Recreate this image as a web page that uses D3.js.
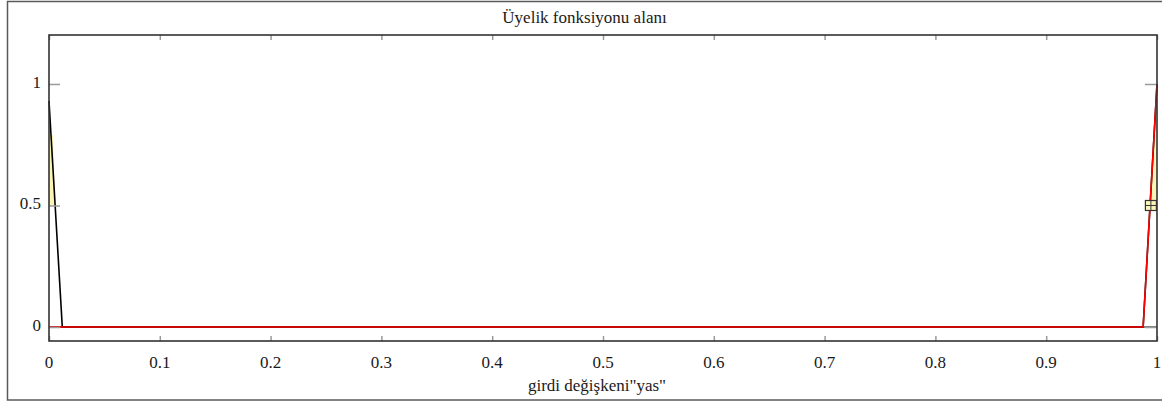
<!DOCTYPE html>
<html>
<head>
<meta charset="utf-8">
<script src="https://cdn.jsdelivr.net/npm/d3@7"></script>
<style>
  html, body { margin: 0; padding: 0; background: #fff; overflow: hidden; }
  svg { display: block; }
  text { font-family: "Liberation Serif", "Times New Roman", serif; fill: #1a1a1a; }
</style>
</head>
<body>
<script>
// Membership functions of the input variable "yas"
const xTickValues = [0, 0.1, 0.2, 0.3, 0.4, 0.5, 0.6, 0.7, 0.8, 0.9, 1];
const xTickLabels = ["0", "0.1", "0.2", "0.3", "0.4", "0.5", "0.6", "0.7", "0.8", "0.9", "1"];
const yTickValues = [0, 0.5, 1];
const yTickLabels = ["0", "0.5", "1"];

// black membership function (low at the left edge, rising again at the right edge)
const blackX = [0, 0.012, 0.9875, 1];
const blackY = [0.93, 0, 0, 1];
// red membership function
const redX = [0, 0.9875, 1];
const redY = [0, 0, 1];
// shaded alpha-cut regions
const shadeLeftX = [0, 0.0055, 0.0036, 0];
const shadeLeftY = [0.5, 0.5, 0.79, 0.79];
const shadeRightX = [0.9941, 1, 1, 0.9985];
const shadeRightY = [0.5, 0.5, 0.92, 0.92];
// centre marker
const markerX = [0.9945];
const markerY = [0.5];

const title = "Üyelik fonksiyonu alanı";
const xTitle = "girdi değişkeni\"yas\"";

const W = 1162, H = 407;
const plot = { left: 49, right: 1157, top: 35, bottom: 341 };

const svg = d3.select("body").append("svg").attr("width", W).attr("height", H);

// outer frame (its right edge lies beyond the visible area)
svg.append("rect")
  .attr("x", 7.5).attr("y", 1.5).attr("width", 1180).attr("height", 398.5)
  .attr("fill", "none").attr("stroke", "#5a5a5a").attr("stroke-width", 1.5);

const x = d3.scaleLinear().domain([0, 1]).range([plot.left, plot.right]);
const y = d3.scaleLinear().domain([-0.0576, 1.2016]).range([plot.bottom, plot.top]);

const zip = (xs, ys) => xs.map((v, i) => [v, ys[i]]);
const line = d3.line().x(d => x(d[0])).y(d => y(d[1]));

const g = svg.append("g");

// zero reference line
g.append("line")
  .attr("x1", plot.left).attr("x2", plot.right)
  .attr("y1", y(0)).attr("y2", y(0))
  .attr("stroke", "#555").attr("stroke-width", 1.5);

// shaded regions
[[shadeLeftX, shadeLeftY], [shadeRightX, shadeRightY]].forEach(([xs, ys]) => {
  g.append("path")
    .attr("d", line(zip(xs, ys)) + "Z")
    .attr("fill", "#fbf5b5").attr("stroke", "none");
});

// membership lines
g.append("path").attr("d", line(zip(blackX, blackY)))
  .attr("fill", "none").attr("stroke", "#000").attr("stroke-width", 1.6);
g.append("path").attr("d", line(zip(redX, redY)))
  .attr("fill", "none").attr("stroke", "#ff0000").attr("stroke-width", 1.6);

// axis ticks on all four sides
const xAxisBottom = d3.axisBottom(x).tickValues(xTickValues).tickSize(-5).tickFormat("");
const xAxisTop = d3.axisTop(x).tickValues(xTickValues).tickSize(-5).tickFormat("");
const yAxisLeft = d3.axisLeft(y).tickValues(yTickValues).tickSize(-11).tickFormat("");
const yAxisRight = d3.axisRight(y).tickValues(yTickValues).tickSize(-12).tickFormat("");
[
  [xAxisBottom, `translate(0,${plot.bottom})`],
  [xAxisTop, `translate(0,${plot.top})`],
  [yAxisLeft, `translate(${plot.left},0)`],
  [yAxisRight, `translate(${plot.right},0)`]
].forEach(([ax, tr]) => {
  const a = g.append("g").attr("transform", tr).call(ax);
  a.select(".domain").remove();
  a.selectAll(".tick line").attr("stroke", "#9a9a9a").attr("stroke-width", 1.5);
});

// centre marker
g.selectAll("g.marker").data(zip(markerX, markerY)).join("g")
  .attr("class", "marker")
  .attr("transform", d => `translate(${x(d[0])},${y(d[1])})`)
  .each(function () {
    const m = d3.select(this);
    m.append("rect").attr("x", -5.5).attr("y", -5).attr("width", 11).attr("height", 10)
      .attr("fill", "#fbf5b5").attr("stroke", "#333").attr("stroke-width", 1.2);
    m.append("line").attr("x1", -5.5).attr("x2", 5.5).attr("y1", 0).attr("y2", 0)
      .attr("stroke", "#333").attr("stroke-width", 1);
    m.append("line").attr("x1", 0).attr("x2", 0).attr("y1", -5).attr("y2", 5)
      .attr("stroke", "#333").attr("stroke-width", 1);
  });

// plot frame
svg.append("rect")
  .attr("x", plot.left).attr("y", plot.top)
  .attr("width", plot.right - plot.left).attr("height", plot.bottom - plot.top)
  .attr("fill", "none").attr("stroke", "#333").attr("stroke-width", 1.6);

// tick labels
svg.append("g").selectAll("text").data(xTickValues).join("text")
  .attr("x", d => x(d)).attr("y", 368)
  .attr("text-anchor", "middle").attr("font-size", 17)
  .text((d, i) => xTickLabels[i]);
svg.append("g").selectAll("text").data(yTickValues).join("text")
  .attr("x", 41).attr("y", d => y(d) + 4)
  .attr("text-anchor", "end").attr("font-size", 17)
  .text((d, i) => yTickLabels[i]);

// titles
svg.append("text").attr("x", 584.5).attr("y", 22.5)
  .attr("text-anchor", "middle").attr("font-size", 17).text(title);
svg.append("text").attr("x", 597).attr("y", 390.5)
  .attr("text-anchor", "middle").attr("font-size", 17).text(xTitle);
</script>
</body>
</html>
